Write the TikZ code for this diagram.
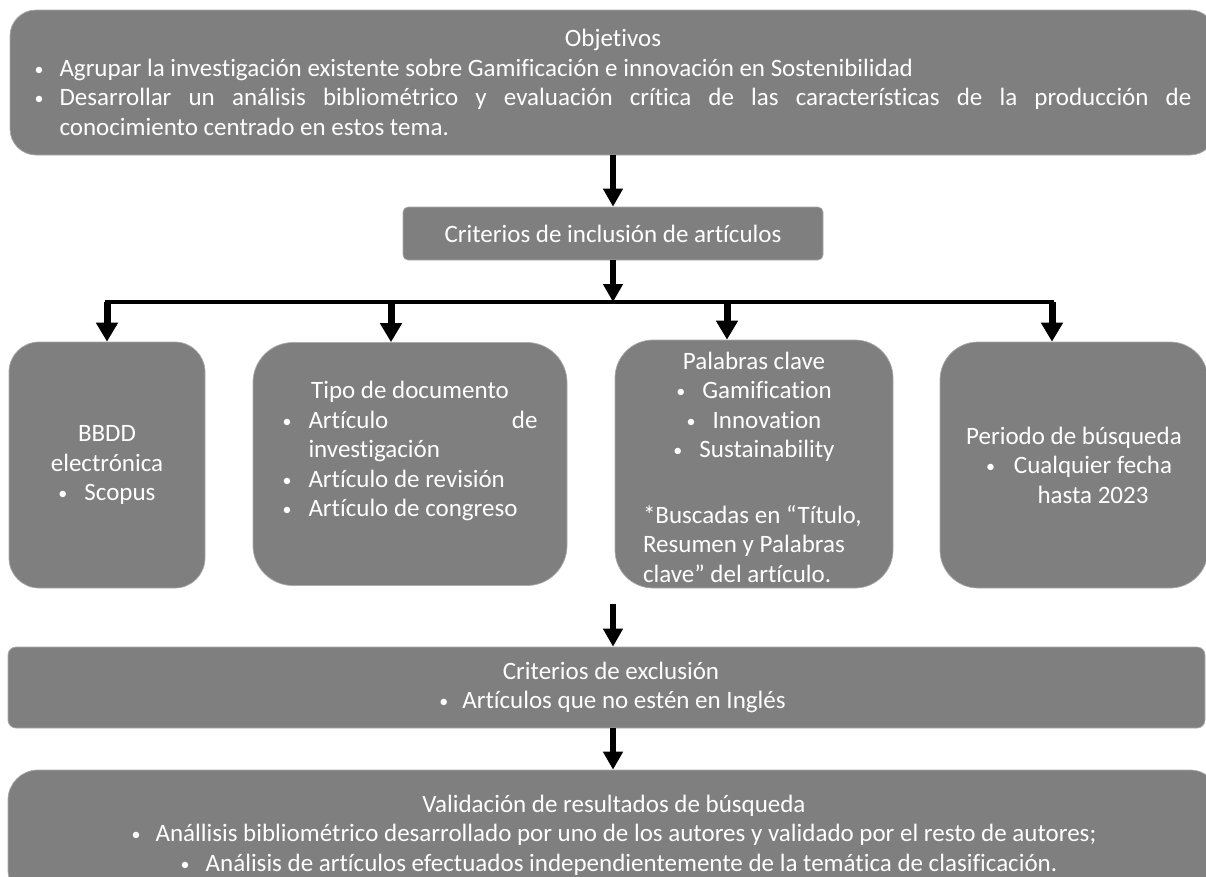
\documentclass[tikz,border=0pt]{standalone}
\usepackage{fontspec}
\setmainfont{Carlito}[Ligatures=NoCommon]
\usetikzlibrary{arrows.meta}
\definecolor{boxgray}{RGB}{127,127,127}
\definecolor{boxedge}{RGB}{170,170,170}
\newcommand{\bul}[1]{\makebox[#1][l]{\raisebox{1pt}{\fontsize{18pt}{18pt}\selectfont •}}}
\newcommand{\hitem}[2]{\par\noindent\hangindent=#1\hangafter=1\bul{#1}#2\par}
\begin{document}
\begin{tikzpicture}[x=1pt,y=-1pt,
  font=\fontsize{25pt}{29.5pt}\selectfont,
  box/.style={fill=boxgray, draw=boxedge, line width=0.7pt, text=white, inner sep=0pt, align=center},
  arr/.style={line width=6pt, -{Triangle[width=19pt,length=18pt]}},
  droparr/.style={line width=7pt, -{Triangle[width=21pt,length=19pt]}},
  bus/.style={line width=4pt, line cap=rect}]
\useasboundingbox (0,0) rectangle (1206,876);
\fill[white] (0,0) rectangle (1206,876);
\clip (0,0) rectangle (1206,876);
\hyphenpenalty=10000 \exhyphenpenalty=10000

% top box
\node[box, minimum width=1206pt, minimum height=145pt, rounded corners=26pt] (top) at (613,82.5)
 {\parbox{1157pt}{\tolerance=10000 {\centering Objetivos\par}
  \hitem{25pt}{Agrupar la investigación existente sobre Gamificación e innovación en Sostenibilidad}
  \hitem{25pt}{Desarrollar un análisis bibliométrico y evaluación crítica de las características de la producción de\linebreak conocimiento centrado en estos tema.}}};

% inclusion
\node[box, minimum width=420pt, minimum height=53pt, rounded corners=5pt] (incl) at (613,233.5)
 {Criterios de inclusión de artículos};

% four criteria boxes
\node[box, minimum width=196pt, minimum height=246pt, rounded corners=30pt] (b1) at (107,465)
 {\parbox{190pt}{\centering BBDD\\ electrónica\\ \bul{26pt}Scopus}};
\node[box, minimum width=314pt, minimum height=243pt, rounded corners=40pt] (b2) at (410,464)
 {\parbox{255pt}{\tolerance=10000 {\centering Tipo de documento\par}
  \hitem{26pt}{Artículo de investigación}
  \hitem{26pt}{Artículo de revisión}
  \hitem{26pt}{Artículo de congreso}
  \mbox{}}};
\node[box, minimum width=278pt, minimum height=248pt, rounded corners=38pt] (b3) at (754,464)
 {\parbox{222pt}{\vspace*{6pt}{\centering Palabras clave\par \bul{26pt}Gamification\par \bul{26pt}Innovation\par \bul{26pt}Sustainability\par}\vspace{36pt}\raggedright *Buscadas en “Título,\\ Resumen y Palabras\\ clave” del artículo.}};
\node[box, minimum width=268pt, minimum height=246pt, rounded corners=38pt] (b4) at (1074,465)
 {\parbox{230pt}{{\centering Periodo de búsqueda\par}\noindent\hspace*{27pt}\bul{22pt}\parbox[t]{170pt}{\centering Cualquier fecha\\ hasta 2023}}};

% exclusion
\node[box, minimum width=1197pt, minimum height=81pt, rounded corners=8pt] (excl) at (606.5,687.5)
 {\parbox{1100pt}{\centering \hspace*{9pt}Criterios de exclusión\\ \hspace*{12pt}\bul{23pt}Artículos que no estén en Inglés}};

% validation
\node[box, minimum width=1212pt, minimum height=130pt, rounded corners=30pt] (bot) at (614,835)
 {\parbox{1150pt}{\centering Validación de resultados de búsqueda\\ \bul{24pt}Anállisis bibliométrico desarrollado por uno de los autores y validado por el resto de autores;\\ \hspace*{10pt}\bul{25pt}Análisis de artículos efectuados independientemente de la temática de clasificación.}};

% connectors
\coordinate (d1) at (107,302);
\coordinate (d2) at (391,302);
\coordinate (d3) at (727,302);
\coordinate (d4) at (1052,302);
\coordinate (dm) at (613,302);
\coordinate (a3s) at (613,604);

\draw[arr] (top) -- (incl);
\draw[bus] (d1) -- (d4);
\draw[arr] (incl.south) -- (dm);
\draw[droparr] (d1) -- (d1 |- b1.north);
\draw[droparr] (d2) -- (d2 |- b2.north);
\draw[droparr] (d3) -- (d3 |- b3.north);
\draw[droparr] (d4) -- (d4 |- b4.north);
\draw[arr] (a3s) -- (a3s |- excl.north);
\draw[arr] (excl.south -| a3s) -- (bot.north -| a3s);
\end{tikzpicture}
\end{document}
